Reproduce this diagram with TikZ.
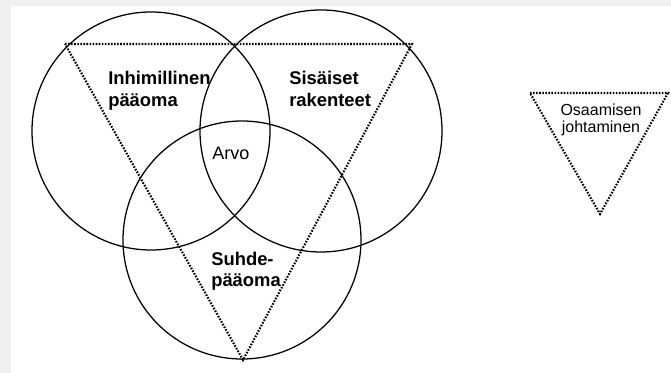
\documentclass[tikz,border=0pt]{standalone}
\usepackage{fontspec}
\setmainfont{Liberation Sans}
\usepackage{tikz}
\usetikzlibrary{positioning, calc}
\definecolor{shadegray}{RGB}{240, 240, 240}
\tikzset{
  ring/.style={circle, draw, line width=0.95pt, inner sep=0pt},
  dotline/.style={line width=1.6pt, dash pattern=on 1.2pt off 1.1pt},
  capital/.style={font=\fontsize{13.8}{16.5}\selectfont\bfseries, align=left, anchor=base west, inner sep=0pt},
  smalltxt/.style={font=\fontsize{12}{12.8}\selectfont, align=center, anchor=base, inner sep=0pt},
}
\begin{document}
\begin{tikzpicture}[x=0.75pt, y=-0.75pt]
  \fill[shadegray] (0,0) rectangle (671,373);
  \fill[white] (11,6) rectangle (671,373);
  \useasboundingbox (0,0) rectangle (671,373);
  % three capitals
  \node[ring, minimum size=178.5pt] (inh) at (151,131) {};
  \node[ring, minimum size=181.5pt] (sis) at (321,131) {};
  \node[ring, minimum size=178.5pt] (suh) at (242,240) {};
  % knowledge management triangle
  \coordinate (kl) at (65,44);
  \coordinate (kr) at (412,44);
  \coordinate (kb) at (243,360);
  \draw[dotline] (kl) -- (kr) -- (kb) -- cycle;
  \coordinate (ol) at (530,93);
  \coordinate (or) at (668,93);
  \coordinate (ob) at (600,214);
  \draw[dotline] (ol) -- (or) -- (ob) -- cycle;
  % labels (base = last line)
  \node[capital] (inhtxt) at (108,107) {Inhimillinen\\pääoma};
  \node[capital] (sistxt) at (289,107) {Sisäiset\\rakenteet};
  \node[capital, font=\fontsize{13.8}{16}\selectfont\bfseries] (suhtxt) at (211,287) {Suhde-\\pääoma};
  \node[capital, font=\fontsize{13.5}{16}\selectfont] (arvo) at (212,160) {Arvo};
  \node[smalltxt] (osa) at (601,133) {Osaamisen\\johtaminen};
\end{tikzpicture}
\end{document}
